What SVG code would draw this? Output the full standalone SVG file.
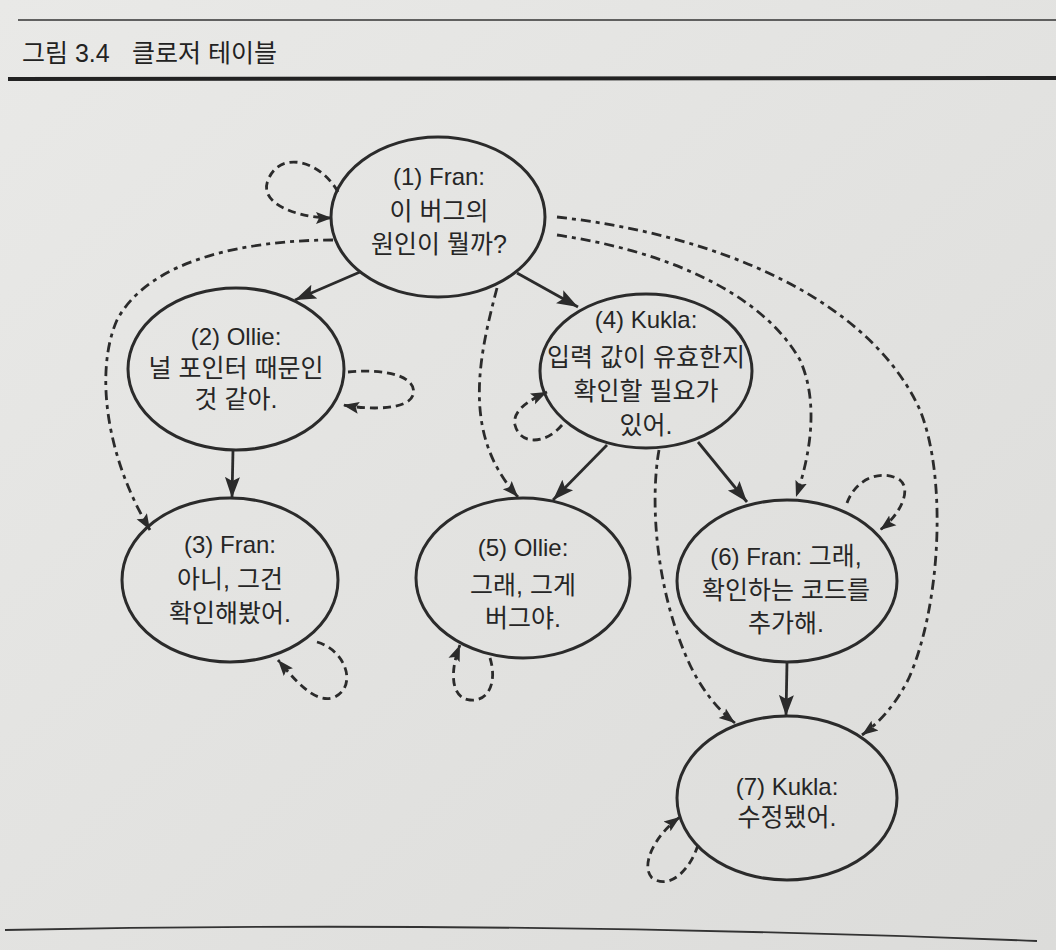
<svg xmlns="http://www.w3.org/2000/svg" width="1056" height="950" viewBox="0 0 1056 950">
<defs>
<linearGradient id="paper" x1="0" y1="0" x2="1" y2="1">
<stop offset="0" stop-color="#e9e9e7"/>
<stop offset="1" stop-color="#dcdcda"/>
</linearGradient>
<marker id="solid" markerUnits="userSpaceOnUse" markerWidth="24" markerHeight="18" refX="21" refY="9" orient="auto">
<path d="M0,1.5 L21,9 L0,16.5 L4,9 Z" fill="#2b2b2b"/>
</marker>
<marker id="dash" markerUnits="userSpaceOnUse" markerWidth="18" markerHeight="14" refX="16" refY="7" orient="auto">
<path d="M0,1 L16,7 L0,13 L3,7 Z" fill="#2b2b2b"/>
</marker>
<style>
.node ellipse{fill:none;stroke:#2b2b2b;stroke-width:3}
.node text{font-family:"Liberation Sans","Noto Sans CJK KR",sans-serif;font-size:24px;fill:#262626;text-anchor:middle}
.node text.ko,.node tspan.ko{font-size:25px}
.title{font-family:"Liberation Sans","Noto Sans CJK KR",sans-serif;font-size:25px;fill:#222}
.edge{fill:none;stroke:#2b2b2b;stroke-width:2.8}
.solid{marker-end:url(#solid)}
.dd{stroke-dasharray:10 5 4 5;marker-end:url(#dash)}
.loop{stroke-dasharray:8 5;marker-end:url(#dash)}
</style>
</defs>
<rect width="1056" height="950" fill="url(#paper)"/>
<g id="header">
<line x1="18" y1="20" x2="1056" y2="20" stroke="#333" stroke-width="1.6"/>
<text class="title" x="22" y="62">그림 3.4</text>
<text class="title" x="132" y="62">클로저 테이블</text>
<line x1="8" y1="79" x2="1056" y2="78" stroke="#222" stroke-width="4"/>
<path d="M5,930 Q500,920 1037,941" fill="none" stroke="#333" stroke-width="1.8"/>
</g>
<g id="connectors">
<path class="edge solid" d="M360,272 L295,300"/>
<path class="edge solid" d="M517,273 L578,307"/>
<path class="edge solid" d="M233,450 L232,498"/>
<path class="edge solid" d="M607,445 L553,500"/>
<path class="edge solid" d="M698,442 L747,502"/>
<path class="edge solid" d="M787,662 L786,716"/>
<path class="edge dd" d="M333,240 C250,240 150,258 117,320 C95,370 105,455 150,530"/>
<path class="edge dd" d="M497,288 C478,360 462,435 518,497"/>
<path class="edge dd" d="M557,235 C660,250 760,290 800,360 C818,400 812,450 796,497"/>
<path class="edge dd" d="M557,217 C720,235 870,300 920,410 C948,480 940,610 908,680 C895,705 880,722 862,735"/>
<path class="edge dd" d="M659,450 C650,500 655,590 690,665 C702,690 718,710 735,723"/>
<path class="edge loop" d="M338,192 C320,160 280,150 268,180 C258,205 300,218 332,218"/>
<path class="edge loop" d="M348,372 C390,368 418,378 413,395 C408,410 370,410 343,405"/>
<path class="edge loop" d="M317,642 C345,650 358,685 335,697 C315,705 295,680 278,660"/>
<path class="edge loop" d="M562,425 C545,445 520,445 515,425 C512,410 530,400 547,392"/>
<path class="edge loop" d="M490,658 C497,680 490,702 470,700 C450,698 450,670 460,645"/>
<path class="edge loop" d="M847,503 C855,480 880,468 900,480 C912,490 900,515 880,530"/>
<path class="edge loop" d="M698,845 C690,870 670,890 652,878 C640,865 655,835 680,817"/>
</g>
<g id="node1" class="node">
<ellipse cx="438" cy="217" rx="107" ry="80"/>
<text x="439" y="185">(1) Fran:</text>
<text class="ko" x="439" y="220">이 버그의</text>
<text class="ko" x="439" y="253">원인이 뭘까?</text>
</g>
<g id="node2" class="node">
<ellipse cx="236" cy="369" rx="108" ry="81"/>
<text x="236" y="345">(2) Ollie:</text>
<text class="ko" x="236" y="377">널 포인터 때문인</text>
<text class="ko" x="236" y="408">것 같아.</text>
</g>
<g id="node3" class="node">
<ellipse cx="230" cy="580" rx="108" ry="82"/>
<text x="230" y="553">(3) Fran:</text>
<text class="ko" x="230" y="588">아니, 그건</text>
<text class="ko" x="230" y="622">확인해봤어.</text>
</g>
<g id="node4" class="node">
<ellipse cx="646" cy="371" rx="106" ry="77"/>
<text x="646" y="328">(4) Kukla:</text>
<text class="ko" x="646" y="366">입력 값이 유효한지</text>
<text class="ko" x="646" y="400">확인할 필요가</text>
<text class="ko" x="646" y="434">있어.</text>
</g>
<g id="node5" class="node">
<ellipse cx="523" cy="578" rx="107" ry="80"/>
<text x="523" y="556">(5) Ollie:</text>
<text class="ko" x="523" y="594">그래, 그게</text>
<text class="ko" x="523" y="627">버그야.</text>
</g>
<g id="node6" class="node">
<ellipse cx="787" cy="581" rx="110" ry="81"/>
<text x="786" y="565">(6) Fran: <tspan class="ko">그래,</tspan></text>
<text class="ko" x="786" y="599">확인하는 코드를</text>
<text class="ko" x="786" y="632">추가해.</text>
</g>
<g id="node7" class="node">
<ellipse cx="787" cy="798" rx="110" ry="82"/>
<text x="787" y="795">(7) Kukla:</text>
<text class="ko" x="787" y="826">수정됐어.</text>
</g>
</svg>
